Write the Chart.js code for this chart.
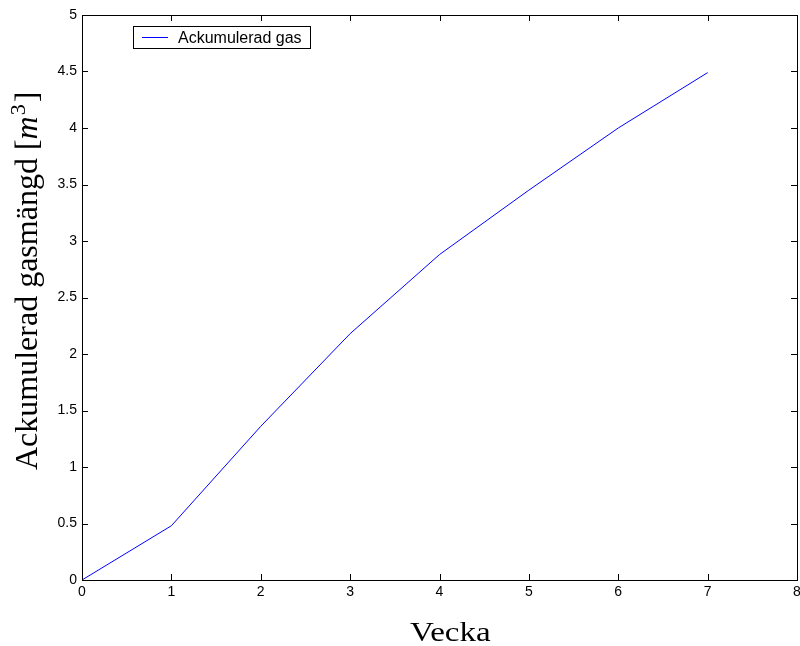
<!DOCTYPE html>
<html>
<head>
<meta charset="utf-8">
<script src="https://cdn.jsdelivr.net/npm/chart.js@4/dist/chart.umd.min.js"></script>
<style>
html,body{margin:0;padding:0;background:#fff;}
canvas{display:block;}
</style>
</head>
<body>
<canvas id="c" width="800" height="646"></canvas>
<script>
const weeks = [0, 1, 2, 3, 4, 5, 6, 7];
const gasValues = [0, 0.48, 1.36, 2.18, 2.88, 3.45, 4.0, 4.49];
const seriesLabel = 'Ackumulerad gas';
const xTitle = 'Vecka';
const yTitleMain = 'Ackumulerad gasmängd [';
const xMin = 0, xMax = 8, xStep = 1;
const yMin = 0, yMax = 5, yStep = 0.5;

const tickFont = {family: 'Liberation Sans, Arial, sans-serif', size: 14};

const decor = {
  id: 'decor',
  afterDraw(chart) {
    const ctx = chart.ctx;
    const a = chart.chartArea;
    const xs = chart.scales.x, ys = chart.scales.y;
    ctx.save();
    ctx.strokeStyle = '#000';
    ctx.lineWidth = 1;
    ctx.strokeRect(Math.round(a.left) + 0.5, Math.round(a.top) + 0.5, Math.round(a.right - a.left), Math.round(a.bottom - a.top));
    const L = 6;
    ctx.beginPath();
    xs.ticks.forEach(t => {
      const px = Math.round(xs.getPixelForValue(t.value)) + 0.5;
      ctx.moveTo(px, a.bottom); ctx.lineTo(px, a.bottom - L);
      ctx.moveTo(px, a.top); ctx.lineTo(px, a.top + L);
    });
    ys.ticks.forEach(t => {
      const py = Math.round(ys.getPixelForValue(t.value)) + 0.5;
      ctx.moveTo(a.left, py); ctx.lineTo(a.left + L, py);
      ctx.moveTo(a.right, py); ctx.lineTo(a.right - L, py);
    });
    ctx.stroke();

    // legend
    const lx = 133, ly = 26, lw = 177, lh = 22;
    ctx.fillStyle = '#fff';
    ctx.fillRect(lx, ly, lw, lh);
    ctx.strokeRect(lx + 0.5, ly + 0.5, lw, lh);
    ctx.strokeStyle = '#0000ff';
    ctx.beginPath();
    ctx.moveTo(142, ly + 11.5); ctx.lineTo(168, ly + 11.5);
    ctx.stroke();
    ctx.fillStyle = '#000';
    ctx.font = '16px "Liberation Sans", Arial, sans-serif';
    ctx.textBaseline = 'alphabetic';
    ctx.textAlign = 'left';
    ctx.fillText(seriesLabel, 178, 43);

    // x title (stretched to mimic Computer Modern width)
    ctx.save();
    ctx.translate(410, 641);
    ctx.scale(1.18, 1);
    ctx.font = '28px "Liberation Serif", "DejaVu Serif", serif';
    ctx.fillText(xTitle, 0, 0);
    ctx.restore();

    // y title with italic m and superscript 3
    ctx.save();
    ctx.translate(37, 470);
    ctx.rotate(-Math.PI / 2);
    const fMain = '32px "Liberation Serif", "DejaVu Serif", serif';
    const fIt = 'italic 32px "Liberation Serif", "DejaVu Serif", serif';
    const fSup = '22px "Liberation Serif", "DejaVu Serif", serif';
    let x0 = 0;
    ctx.font = fMain; ctx.fillText(yTitleMain, x0, 0); x0 += ctx.measureText(yTitleMain).width;
    ctx.font = fIt; ctx.fillText('m', x0, 0); x0 += ctx.measureText('m').width + 1;
    ctx.font = fSup; ctx.fillText('3', x0, -12); x0 += ctx.measureText('3').width + 2;
    ctx.font = fMain; ctx.fillText(']', x0, 0);
    ctx.restore();
    ctx.restore();
  }
};

new Chart(document.getElementById('c'), {
  type: 'line',
  data: {
    datasets: [{
      label: seriesLabel,
      data: weeks.map((w, i) => ({x: w, y: gasValues[i]})),
      borderColor: '#0000ff',
      borderWidth: 1,
      pointRadius: 0,
      fill: false,
      tension: 0
    }]
  },
  options: {
    responsive: false,
    animation: false,
    layout: {padding: {left: 0, top: 15, right: 3, bottom: 0}},
    plugins: {legend: {display: false}, tooltip: {enabled: false}},
    scales: {
      x: {
        type: 'linear', min: xMin, max: xMax,
        ticks: {stepSize: xStep, color: '#000', font: tickFont, padding: 4, maxRotation: 0},
        grid: {display: true, drawOnChartArea: false, drawTicks: false},
        border: {display: true, color: '#000'},
        afterFit(s) { s.height = 66; s.paddingRight = 0; s.paddingLeft = 0; }
      },
      y: {
        type: 'linear', min: yMin, max: yMax,
        ticks: {stepSize: yStep, color: '#000', font: tickFont, padding: 5,
          callback: v => String(v)},
        grid: {display: true, drawOnChartArea: false, drawTicks: false},
        border: {display: true, color: '#000'},
        afterFit(s) { s.width = 82; s.paddingTop = 0; s.paddingBottom = 0; }
      }
    }
  },
  plugins: [decor]
});
</script>
</body>
</html>
